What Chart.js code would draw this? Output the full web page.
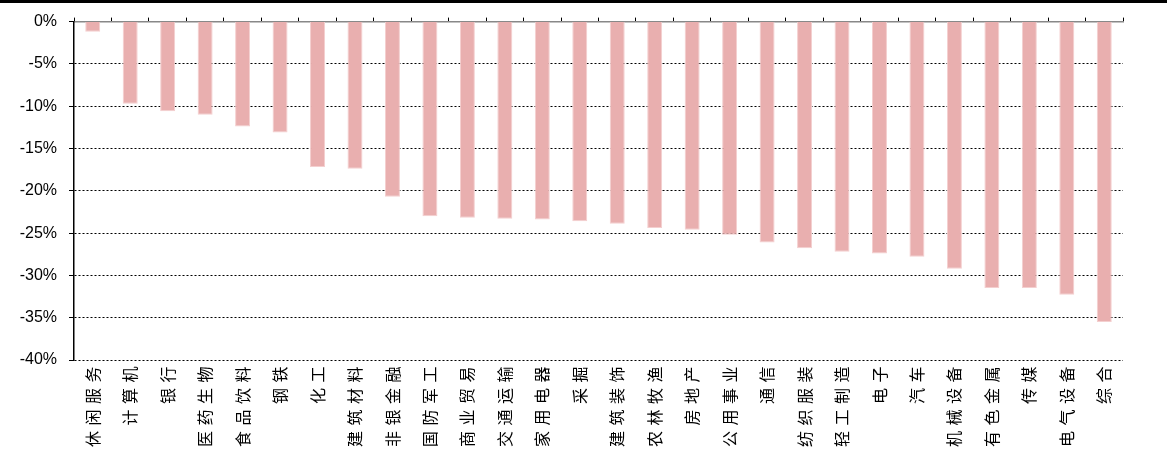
<!DOCTYPE html>
<html>
<head>
<meta charset="utf-8">
<script src="https://cdn.jsdelivr.net/npm/chart.js@4.4.1/dist/chart.umd.min.js"></script>
<style>
  body { margin: 0; background: #fff; }
  #wrap { position: relative; width: 1167px; height: 452px; }
  #topline { position: absolute; left: 0; top: 0; width: 1167px; height: 3px; background: #000; }
</style>
</head>
<body>
<div id="wrap">
  <canvas id="sectorChart" width="1167" height="452"></canvas>
  <div id="topline"></div>
</div>
<script>
// sector names and returns (%)
const sectors = ["休闲服务", "计算机", "银行", "医药生物", "食品饮料", "钢铁", "化工", "建筑材料", "非银金融", "国防军工",
  "商业贸易", "交通运输", "家用电器", "采掘", "建筑装饰", "农林牧渔", "房地产", "公用事业", "通信", "纺织服装",
  "轻工制造", "电子", "汽车", "机械设备", "有色金属", "传媒", "电气设备", "综合"];
const returns = [-1.2, -9.7, -10.6, -11.0, -12.4, -13.1, -17.2, -17.4, -20.7, -23.0,
  -23.2, -23.3, -23.4, -23.6, -23.9, -24.4, -24.6, -25.2, -26.1, -26.8,
  -27.2, -27.4, -27.8, -29.2, -31.5, -31.5, -32.3, -35.5];
const yTicks = [0, -5, -10, -15, -20, -25, -30, -35, -40];

const ctx = document.getElementById("sectorChart").getContext("2d");

const chart = new Chart(ctx, {
  type: "bar",
  data: {
    labels: sectors,
    datasets: [{
      data: returns,
      backgroundColor: "#E9AFAF",
      borderColor: "#F4CFCF",
      borderWidth: 1,
      barPercentage: 0.4,
      categoryPercentage: 1,
      xAxisID: "x",
    }],
  },
  options: {
    responsive: false,
    animation: false,
    layout: { padding: { top: 15, right: 44, left: 0, bottom: 0 } },
    plugins: { legend: { display: false }, tooltip: { enabled: false } },
    scales: {
      x: {
        position: "bottom",
        grid: { display: false },
        border: { display: false },
        ticks: {
          minRotation: 90,
          maxRotation: 90,
          autoSkip: false,
          padding: -7,
          color: "#000",
          font: { family: "'Noto Sans CJK SC'", size: 16 },
        },
        afterFit: (scale) => { scale.height = 92; },
      },
      x2: {
        type: "category",
        labels: sectors,
        position: "top",
        offset: true,
        grid: { offset: true, drawOnChartArea: false, drawTicks: true, tickLength: 4, color: "#000", tickColor: "#000" },
        border: { display: true, color: "#888", width: 1.5 },
        ticks: { display: false },
        afterFit: (scale) => { scale.height = 4; },
      },
      y: {
        min: -40,
        max: 0,
        afterBuildTicks: (scale) => { scale.ticks = yTicks.map((v) => ({ value: v })); },
        grid: {
          color: (c) => (c.tick && c.tick.value === 0 ? "#888" : "#000"),
          lineWidth: 1,
          tickColor: "#000",
          tickLength: 5,
        },
        border: {
          display: true,
          color: "#000",
          width: 1.5,
          dash: (c) => (c.tick && c.tick.value === 0 ? [] : [2, 2]),
        },
        ticks: {
          padding: 12,
          color: "#000",
          font: { family: "'Liberation Sans', Arial", size: 16 },
          callback: (v) => v + "%",
        },
        afterFit: (scale) => { scale.width = 74; },
      },
    },
  },
});

// spaced characters on the category labels
const xs = chart.scales.x;
const origDrawLabels = xs.drawLabels.bind(xs);
xs.drawLabels = function (area) {
  ctx.save();
  ctx.letterSpacing = "5.5px";
  origDrawLabels(area);
  ctx.restore();
};
chart.draw();
</script>
</body>
</html>
